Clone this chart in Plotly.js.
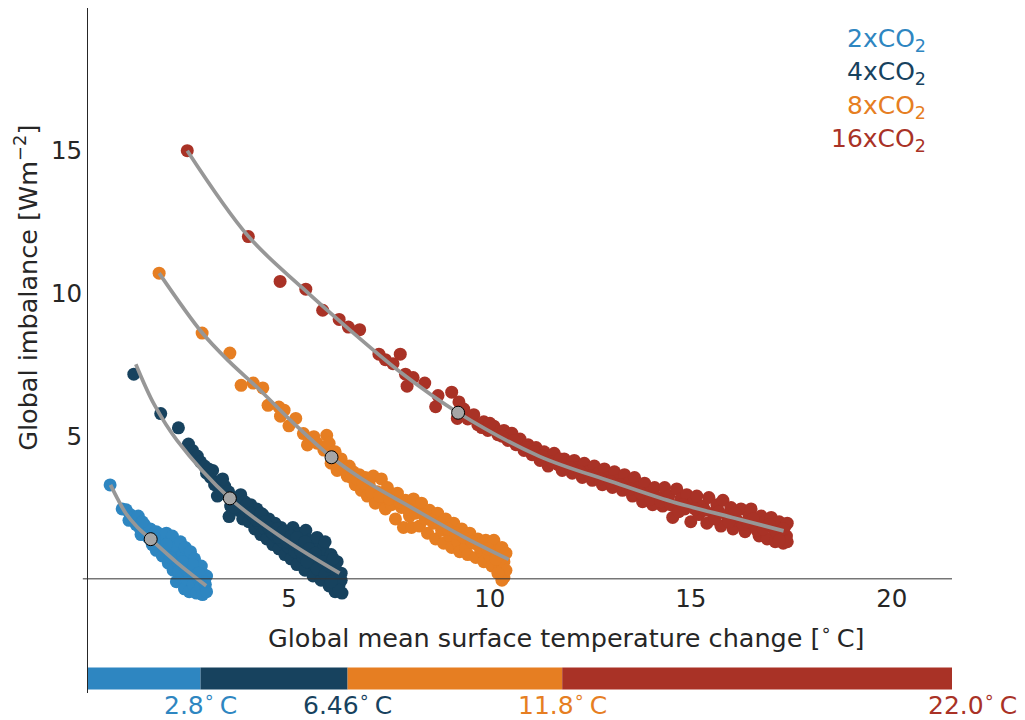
<!DOCTYPE html>
<html>
<head>
<meta charset="utf-8">
<script src="https://cdn.plot.ly/plotly-3.0.1.min.js"></script>
<style>html,body{margin:0;padding:0;background:#fff}</style>
</head>
<body>
<div id="chart" style="width:1025px;height:720px"></div>
<script>
// Forcing scenarios, colours and equilibrium warming (x-intercept of each fit)
const scenarios = ['2xCO<sub>2</sub>', '4xCO<sub>2</sub>', '8xCO<sub>2</sub>', '16xCO<sub>2</sub>'];
const colors = ['#2E86C1', '#17425E', '#E67E22', '#A93226'];
const eqTemp = [2.8, 6.46, 11.8, 22.0];
const eqTempLabels = ['2.8', '6.46', '11.8', '22.0'];

// Annual means: [temperature change (°C), TOA imbalance (W m^-2)]
const run2x = [
  [0.55,3.29],[0.85,2.45],[0.95,2.42],[1.05,2.25],[1.02,2.05],[1.15,2.15],[1.2,1.9],[1.25,2.2],
  [1.3,1.75],[1.32,1.55],[1.4,1.9],[1.45,1.65],[1.5,1.45],[1.55,1.75],[1.6,1.2],[1.62,1.55],
  [1.7,1.65],[1.7,1.0],[1.75,1.35],[1.8,1.55],[1.85,0.8],[1.88,1.15],[1.9,1.45],[1.95,1.6],
  [2.0,0.55],[2.0,1.0],[2.05,1.3],[2.1,1.5],[2.12,0.3],[2.15,0.8],[2.2,1.1],[2.2,-0.1],
  [2.25,0.5],[2.3,1.3],[2.32,0.2],[2.35,0.85],[2.4,-0.35],[2.42,1.1],[2.45,0.0],[2.5,0.55],
  [2.52,-0.45],[2.55,0.95],[2.6,0.25],[2.62,-0.2],[2.65,0.7],[2.7,-0.5],[2.72,0.4],[2.75,0.0],
  [2.8,-0.3],[2.82,0.45],[2.85,-0.55],[2.88,0.15],[2.92,-0.2],[2.95,-0.45],[2.95,0.1],
  [1.35,2.0],[1.65,1.35],[1.95,1.2],[2.25,0.25],[2.45,0.3],[2.6,0.5],[2.75,0.2],[2.9,-0.1],
  [2.35,0.6],[2.05,0.75]
];
const run4x = [
  [1.14,7.17],[1.81,5.79],[2.25,5.29],[2.5,4.72],[2.6,4.5],[2.72,4.3],[2.8,4.1],[2.9,3.95],
  [2.95,3.7],[3.05,3.55],[3.1,3.8],[3.15,3.3],[3.22,2.9],[3.25,3.4],[3.3,3.1],[3.4,3.25],
  [3.45,2.95],[3.51,2.18],[3.55,2.55],[3.6,2.85],[3.7,2.65],[3.75,2.4],[3.8,2.95],[3.85,2.1],
  [3.9,2.7],[3.95,2.35],[4.0,2.0],[4.05,2.6],[4.1,2.2],[4.15,1.75],[4.2,2.45],[4.25,1.95],
  [4.3,1.55],[4.35,2.25],[4.4,1.75],[4.45,1.4],[4.5,2.1],[4.55,1.65],[4.6,1.2],[4.65,1.95],
  [4.7,1.45],[4.75,1.05],[4.8,1.8],[4.85,1.3],[4.9,0.85],[4.95,1.55],[5.0,1.1],[5.05,0.7],
  [5.1,1.8],[5.1,1.35],[5.15,0.95],[5.2,0.5],[5.25,1.6],[5.3,1.15],[5.35,0.75],[5.4,0.3],
  [5.42,1.7],[5.5,1.35],[5.55,0.9],[5.6,0.1],[5.6,0.55],[5.65,1.2],[5.7,1.45],[5.75,0.75],
  [5.8,-0.05],[5.8,0.35],[5.85,1.05],[5.9,1.3],[5.95,0.55],[6.0,-0.25],[6.0,0.15],[6.05,0.85],
  [6.1,0.4],[6.15,-0.45],[6.15,0.0],[6.2,0.6],[6.25,-0.2],[6.3,0.2],[6.32,-0.5],[6.3,-0.05],
  [3.0,3.85],[3.35,3.5],[3.5,3.05],[3.65,2.5],[3.95,2.6],[4.05,2.3],[4.2,2.05],[4.3,2.3],
  [4.4,2.0],[4.5,1.8],[4.6,1.6],[4.7,1.75],[4.75,1.45],[4.85,1.65],[4.95,1.3],[5.05,1.5],
  [5.15,1.2],[5.2,1.45],[5.3,0.95],[5.4,1.3],[5.45,0.6],[5.5,1.05],[5.65,0.9],[5.7,0.35],
  [5.85,0.6],[5.9,0.15],[6.0,0.45],[6.1,0.7],[6.2,0.2],[6.25,-0.4],[6.05,-0.1]
];
const run8x = [
  [1.77,10.71],[2.84,8.61],[3.53,7.91],[3.81,6.78],[4.11,6.86],[4.35,6.69],[4.48,6.08],[4.75,6.02],
  [4.88,5.91],[4.79,5.70],[5.17,5.62],[5.0,5.36],[5.36,5.09],[5.62,4.98],[5.94,5.03],[5.46,4.69],
  [5.87,4.51],[5.7,4.75],[6.0,4.75],[6.05,4.05],[6.15,4.45],[6.2,3.8],[6.3,4.2],[6.35,3.95],
  [6.45,3.6],[6.5,3.95],[6.6,3.75],[6.65,3.3],[6.75,3.65],[6.8,3.1],[6.9,3.55],[6.95,2.9],
  [7.0,3.3],[7.1,3.6],[7.15,2.65],[7.2,3.05],[7.3,3.5],[7.35,2.8],[7.4,2.45],[7.45,3.2],
  [7.55,2.6],[7.6,2.95],[7.65,2.1],[7.7,3.0],[7.8,2.5],[7.85,1.8],[7.9,2.75],[8.0,2.2],
  [8.05,1.8],[8.1,2.8],[8.2,2.45],[8.25,1.85],[8.3,2.65],[8.4,2.1],[8.45,1.6],[8.5,2.4],
  [8.6,1.95],[8.65,1.4],[8.7,2.3],[8.8,1.7],[8.85,1.25],[8.9,2.1],[9.0,1.5],[9.05,1.1],
  [9.1,1.95],[9.2,1.3],[9.25,0.95],[9.3,1.75],[9.4,1.1],[9.45,0.85],[9.5,1.6],[9.6,1.25],
  [9.65,0.75],[9.7,1.4],[9.8,0.95],[9.85,0.6],[9.9,1.35],[10.0,0.8],[10.05,0.45],[10.1,1.35],
  [10.2,1.0],[10.25,0.45],[10.3,0.95],[10.35,0.05],[10.35,0.6],[10.3,1.1],[10.4,0.3],[10.3,-0.05],
  [6.1,4.3],[6.4,3.85],[6.55,3.55],[6.7,3.5],[6.85,3.35],[7.05,3.05],[7.25,2.9],[7.5,2.8],
  [7.75,2.7],[7.95,2.45],[8.15,2.3],[8.35,2.25],[8.55,2.05],[8.75,1.95],[8.95,1.75],[9.15,1.6],
  [9.35,1.45],[9.55,1.3],[9.75,1.1],[9.95,1.05],[10.15,0.7],[10.2,0.2],[10.4,0.9]
];
const run16x = [
  [2.47,15.0],[3.99,11.99],[4.78,10.42],[5.42,10.15],[5.84,9.41],[6.25,9.09],[6.48,8.82],[6.76,8.73],
  [7.24,7.87],[7.40,7.68],[7.59,7.54],[7.77,7.87],[7.90,7.17],[8.09,7.05],[7.94,6.75],[8.38,6.86],
  [8.71,6.42],[9.05,6.54],[8.65,6.03],[9.23,6.20],[9.19,5.62],[9.35,5.95],[9.45,5.6],[9.6,5.75],
  [9.7,5.4],[9.85,5.5],[9.95,5.2],[10.1,5.35],[10.2,5.05],[10.35,5.2],[10.45,4.85],[10.55,5.1],
  [10.65,4.7],[10.75,4.9],[10.85,4.5],[10.95,4.7],[11.05,4.35],[11.15,4.6],[11.25,4.15],[11.35,4.45],
  [11.45,3.95],[11.5,4.25],[11.6,4.4],[11.7,4.0],[11.8,3.8],[11.85,4.2],[11.95,4.05],[12.05,3.7],
  [12.1,4.15],[12.2,3.9],[12.3,3.55],[12.35,4.05],[12.45,3.75],[12.55,3.45],[12.6,3.95],[12.7,3.7],
  [12.8,3.3],[12.85,3.85],[12.95,3.55],[13.05,3.2],[13.1,3.75],[13.2,3.45],[13.3,3.1],[13.35,3.65],
  [13.45,3.35],[13.55,2.9],[13.6,3.55],[13.7,3.2],[13.8,2.7],[13.85,3.35],[13.95,3.0],[14.05,2.6],
  [14.1,3.2],[14.2,2.85],[14.3,2.55],[14.35,3.2],[14.45,2.9],[14.55,2.15],[14.6,2.55],[14.65,3.15],
  [14.75,2.8],[14.85,2.45],[14.9,2.95],[15.0,2.0],[15.05,2.65],[15.15,2.9],[15.2,2.25],[15.3,2.55],
  [15.4,1.95],[15.45,2.85],[15.55,2.3],[15.65,2.6],[15.75,1.85],[15.8,2.75],[15.9,2.2],[16.0,2.5],
  [16.05,1.75],[16.15,2.05],[16.25,2.45],[16.35,1.65],[16.45,2.2],[16.5,2.45],[16.6,1.85],[16.7,1.5],
  [16.75,2.2],[16.85,2.0],[16.9,1.4],[17.0,2.15],[17.05,1.75],[17.1,1.3],[17.2,2.0],[17.25,1.55],
  [17.3,1.25],[17.35,1.85],[17.38,1.5],[17.4,1.95],
  [9.8,5.3],[10.0,5.45],[10.3,5.0],[10.6,4.85],[10.9,4.6],[11.1,4.45],[11.3,4.3],[11.55,4.1],
  [11.75,4.2],[12.0,3.9],[12.25,3.75],[12.5,3.6],[12.75,3.5],[13.0,3.4],[13.25,3.3],[13.5,3.15],
  [13.75,3.0],[14.0,2.8],[14.25,2.7],[14.5,2.6],[14.7,2.35],[14.8,2.6],[15.1,2.45],[15.35,2.4],
  [15.6,2.1],[15.7,2.35],[15.95,2.0],[16.1,2.3],[16.3,1.9],[16.4,2.0],[16.55,2.1],[16.65,1.7],
  [16.8,1.75],[16.95,1.9],[17.15,1.6],[17.3,1.75],[17.4,1.3],[17.2,1.35]
];
const runs = [run2x, run4x, run8x, run16x];

// Fitted curves through each run
const fit2x = [[0.56,3.29],[0.73,2.82],[0.94,2.30],[1.23,1.81],[1.56,1.39],[2.22,0.56],[2.94,-0.24]];
const fit4x = [[1.19,7.52],[1.65,6.1],[2.21,4.86],[3.53,2.82],[4.92,1.36],[6.26,0.20]];
const fit8x = [[1.77,10.71],[2.84,8.62],[3.51,7.62],[4.2,6.72],[5.12,5.45],[6.06,4.26],[6.82,3.50],[8.07,2.48],[9.31,1.50],[10.47,0.68]];
const fit16x = [[2.47,15.0],[3.99,12.0],[5.33,10.2],[6.49,8.75],[7.81,7.2],[9.21,5.82],[11.22,4.30],[13.04,3.40],[14.54,2.70],[16.03,2.15],[17.31,1.68]];
const fits = [fit2x, fit4x, fit8x, fit16x];

// Highlighted point on each fit
const markT = [1.56, 3.53, 6.06, 9.21];
const markN = [1.39, 2.82, 4.26, 5.82];

const xTicks = [5, 10, 15, 20];
const yTicks = [5, 10, 15];
const xRange = [0, 21.5];
const yRange = [-4, 20];

const FONT = 'DejaVu Sans, sans-serif';
const TXT = '#262626';

const traces = [];
runs.forEach((run, i) => {
  traces.push({
    type: 'scatter', mode: 'markers', cliponaxis: false,
    x: run.map(p => p[0]), y: run.map(p => p[1]),
    marker: {color: colors[i], size: 13, line: {width: 0}},
    hoverinfo: 'skip', showlegend: false
  });
});
fits.forEach((fit) => {
  traces.push({
    type: 'scatter', mode: 'lines',
    x: fit.map(p => p[0]), y: fit.map(p => p[1]),
    line: {color: '#979797', width: 3.7, shape: 'spline', smoothing: 1},
    hoverinfo: 'skip', showlegend: false
  });
});
traces.push({
  type: 'scatter', mode: 'markers', cliponaxis: false,
  x: markT, y: markN,
  marker: {color: '#A6A6A6', size: 13, line: {color: '#000', width: 1}},
  hoverinfo: 'skip', showlegend: false
});

// Colour strip showing the equilibrium warming of each scenario
const shapes = [];
eqTemp.forEach((t, i) => {
  shapes.push({
    type: 'rect', xref: 'x', yref: 'y', layer: 'above',
    x0: i === 0 ? 0 : eqTemp[i - 1], x1: t, y0: -3.88, y1: -3.11,
    fillcolor: colors[i], line: {width: 0}
  });
});
shapes.push({
  type: 'line', xref: 'paper', yref: 'y', layer: 'above',
  x0: -0.006, x1: 1, y0: 0, y1: 0, line: {color: '#333', width: 1}
});

const annotations = [];
scenarios.forEach((s, i) => {
  annotations.push({
    xref: 'paper', yref: 'paper', x: 0.972, y: 0.954 - i * 0.049,
    xanchor: 'right', yanchor: 'middle', showarrow: false,
    text: s, font: {family: FONT, size: 25, color: colors[i]}
  });
});
eqTemp.forEach((t, i) => {
  annotations.push({
    xref: 'paper', yref: 'paper', x: (t - xRange[0]) / (xRange[1] - xRange[0]), y: -0.016,
    xanchor: 'center', yanchor: 'middle', showarrow: false,
    text: eqTempLabels[i] + '<sup>∘</sup>\u2009C',
    font: {family: FONT, size: 25, color: colors[i]}
  });
});
// Axis titles, centred on the 0–20 part of the y axis
annotations.push({
  xref: 'paper', yref: 'paper', x: 0.554, y: 0.083,
  xanchor: 'center', yanchor: 'middle', showarrow: false,
  text: 'Global mean surface temperature change [<sup>∘</sup>\u2009C]',
  font: {family: FONT, size: 25.5, color: TXT}
});
annotations.push({
  xref: 'paper', yref: 'paper', x: -0.071, y: 0.591,
  xanchor: 'center', yanchor: 'middle', showarrow: false, textangle: -90,
  text: 'Global imbalance [Wm<sup>−2</sup>]',
  font: {family: FONT, size: 25.5, color: TXT}
});

const layout = {
  width: 1025, height: 720,
  margin: {l: 88, r: 73, t: 8, b: 27},
  paper_bgcolor: '#fff', plot_bgcolor: '#fff',
  font: {family: FONT, size: 24, color: TXT},
  showlegend: false,
  xaxis: {
    range: xRange, anchor: 'free', position: -yRange[0] / (yRange[1] - yRange[0]),
    showgrid: false, zeroline: false, showline: false,
    ticks: '', tickvals: xTicks, ticktext: xTicks.map(String), ticklabelstandoff: 3,
    tickfont: {family: FONT, size: 24.5, color: TXT}
  },
  yaxis: {
    range: yRange, showgrid: false, zeroline: false,
    showline: true, linecolor: '#262626', linewidth: 1,
    ticks: '', tickvals: yTicks, ticktext: yTicks.map(String),
    tickfont: {family: FONT, size: 24.5, color: TXT}
  },
  shapes: shapes,
  annotations: annotations
};

Plotly.newPlot('chart', traces, layout, {displayModeBar: false, staticPlot: true});
</script>
</body>
</html>
